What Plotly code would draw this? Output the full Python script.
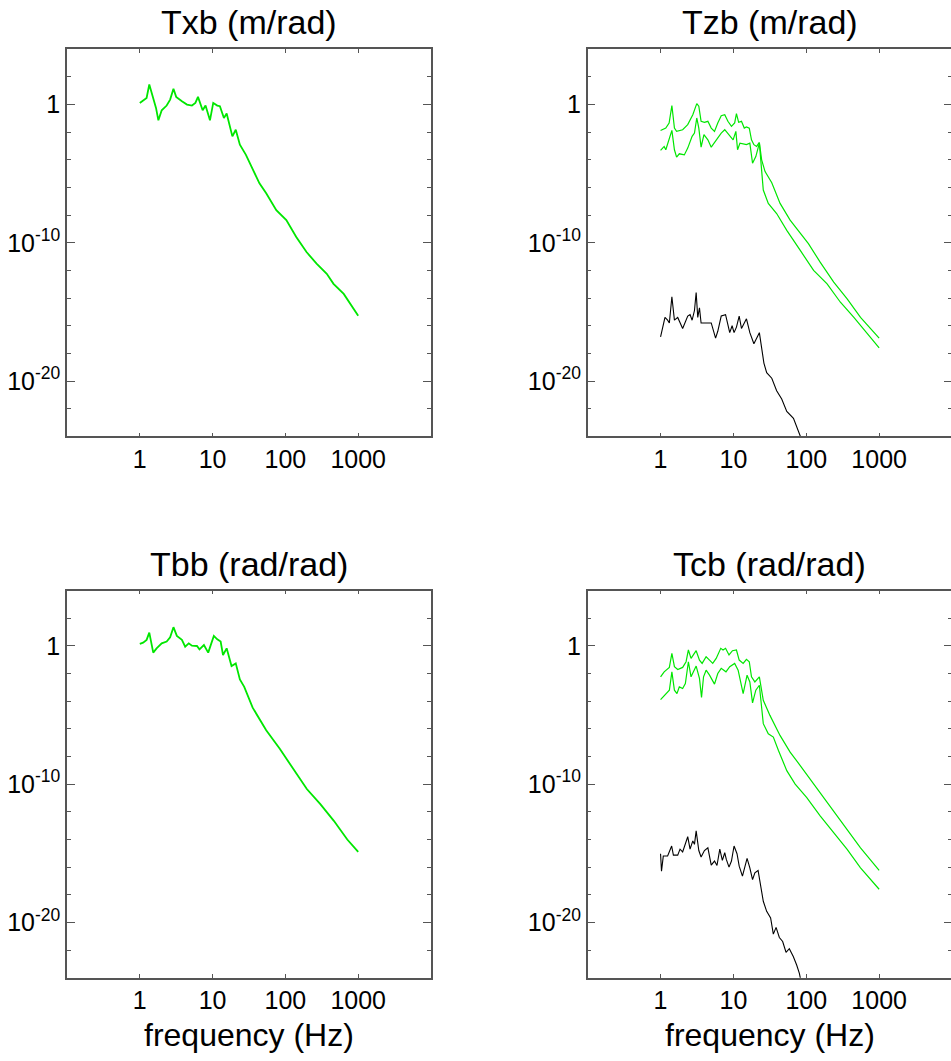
import numpy as np
import plotly.graph_objects as go

# --- data (frequency in Hz, magnitude as log10) ---
txb_f = [1, 1.11, 1.24, 1.35, 1.53, 1.67, 1.8, 2.0, 2.34, 2.61, 2.9, 3.16, 3.79, 4.45, 5.2, 5.8,
         6.3, 6.8, 7.3, 8.0, 8.5, 9.2, 10.2, 11.6, 12.6, 13.6, 14.3, 15.6, 16.8, 18.7, 20.8, 23.7,
         28.7, 35.5, 44, 54.5, 75, 103, 141, 195, 268, 370, 458, 633, 1000]
txb_m = [0.12, 0.29, 0.48, 1.45, 0.36, -0.24, -1.14, -0.41, -0.07, 0.36, 1.14, 0.56, 0.24, 0.0, -0.07, 0.12,
         0.56, 0.0, -0.41, -0.07, -0.56, -1.14, 0.12, -0.07, -0.12, -0.73, -0.97, -0.65, -1.33, -2.3, -1.82, -2.9,
         -3.64, -4.73, -5.7, -6.42, -7.64, -8.36, -9.58, -10.67, -11.5, -12.24, -12.97, -13.7, -15.27]

tbb_f = [1, 1.11, 1.24, 1.35, 1.53, 1.7, 2.0, 2.34, 2.61, 2.9, 3.23, 3.79, 4.2, 4.7, 5.2, 6.1,
         6.6, 7.6, 8.7, 10.4, 11.6, 12.9, 13.9, 15.6, 18.2, 20.8, 23.7, 27.2, 35.5, 54.5, 83.7, 128.6,
         197, 302, 463, 708, 1000]
tbb_m = [0.15, 0.24, 0.44, 0.97, -0.48, -0.17, 0.19, 0.32, 0.63, 1.36, 0.73, 0.44, -0.05, 0.19, 0.02, 0.0,
         -0.24, 0.07, -0.48, 0.73, 0.48, 0.32, -0.65, -0.17, -1.45, -1.26, -2.42, -2.96, -4.46, -6.1, -7.44, -8.9,
         -10.35, -11.44, -12.65, -14.0, -14.9]

tzb_up_f = [1, 1.18, 1.31, 1.43, 1.55, 1.66, 2.01, 2.36, 2.77, 3.14, 3.35, 3.6, 4.0, 4.46, 4.96, 5.5,
            6.1, 6.8, 7.6, 8.4, 9.4, 10.4, 11.0, 11.8, 12.9, 14.1, 15.1, 16.5, 17.7, 19.1, 20.8, 22.7,
            24.4, 27.2, 33.6, 43.7, 60, 82.7, 107, 155, 238, 364, 555, 1000]
tzb_up_m = [-1.87, -1.7, -1.33, -0.07, -1.7, -1.94, -1.82, -1.45, -0.73, 0.07, -0.12, -1.21, -1.28, -1.21, -1.7, -1.94,
            -1.33, -0.8, -0.73, -1.21, -1.58, -1.33, -0.65, -1.28, -1.21, -1.7, -1.62, -1.7, -2.55, -2.9, -3.03, -2.74,
            -4.0, -4.85, -5.65, -7.15, -8.36, -9.33, -10.06, -11.4, -12.85, -14.06, -15.4, -16.9]

tzb_lo_f = [1, 1.12, 1.18, 1.43, 1.55, 1.66, 1.81, 2.12, 2.36, 2.71, 2.92, 3.14, 3.35, 3.6, 3.94, 4.46,
            4.96, 5.8, 6.8, 7.6, 8.9, 9.9, 10.8, 11.4, 12.3, 15.1, 16.8, 18.3, 20.3, 22.7, 25.7, 30.1,
            39.2, 54, 82.7, 126, 193, 294, 450, 687, 1000]
tzb_lo_m = [-3.32, -3.03, -3.27, -1.87, -3.27, -3.8, -3.56, -3.64, -3.15, -2.3, -2.06, -0.97, -1.7, -3.08, -2.18, -2.55,
            -3.08, -2.55, -2.06, -1.82, -2.3, -2.55, -1.94, -3.27, -2.79, -2.9, -2.79, -4.24, -3.76, -2.79, -6.18, -7.15,
            -7.88, -9.1, -10.55, -12.0, -12.97, -14.3, -15.4, -16.6, -17.6]

tzb_bk_f = [1, 1.07, 1.15, 1.25, 1.32, 1.43, 1.55, 1.72, 2.01, 2.36, 2.54, 2.71, 2.92, 3.08, 3.24, 3.42,
            3.6, 4.22, 4.96, 5.69, 6.1, 6.8, 7.8, 8.9, 9.6, 10.2, 11.0, 12.0, 12.9, 15.1, 16.8, 19.1,
            22.7, 26.2, 28.6, 33.6, 39.2, 46, 54, 66.7, 76.7, 84.3, 101, 150]
tzb_bk_m = [-16.8, -16.0, -15.4, -15.6, -15.8, -13.9, -15.6, -15.4, -16.2, -15.3, -15.2, -15.6, -14.9, -13.6, -15.4, -14.7,
            -15.8, -15.8, -15.8, -16.9, -16.4, -15.3, -15.2, -16.5, -16.0, -16.5, -16.1, -15.3, -16.2, -15.5, -16.5, -17.3,
            -16.5, -18.7, -19.4, -19.8, -20.7, -21.3, -22.2, -22.7, -23.5, -24.1, -25.3, -27.0]

tcb_up_f = [1, 1.12, 1.32, 1.43, 1.55, 1.72, 2.01, 2.24, 2.41, 2.62, 3.08, 3.42, 3.72, 4.22, 4.7, 5.2,
            5.8, 6.7, 7.2, 7.8, 8.7, 9.7, 11.0, 12.0, 13.6, 15.1, 16.5, 17.7, 19.7, 22.7, 25.7, 31.7,
            43.6, 60, 82.6, 113, 174, 238, 364, 555, 1000]
tcb_up_m = [-2.23, -1.87, -1.55, -0.53, -1.5, -1.7, -1.55, -1.14, -0.29, -0.9, -0.34, -1.02, -1.26, -0.78, -1.02, -1.26,
            -0.9, -0.17, -0.29, -0.17, -0.65, -0.34, -0.29, -1.02, -1.26, -0.97, -1.14, -2.23, -2.6, -2.23, -3.93, -5.02,
            -6.47, -7.68, -8.65, -9.62, -10.96, -11.93, -13.26, -14.6, -16.24]

tcb_lo_f = [1, 1.18, 1.32, 1.43, 1.55, 1.68, 1.81, 2.01, 2.19, 2.41, 2.62, 3.08, 3.42, 3.65, 3.89, 4.22,
            4.7, 5.5, 6.1, 6.8, 7.9, 8.9, 10.4, 11.6, 12.5, 13.6, 15.4, 16.8, 18.3, 20.3, 22.7, 25.7,
            30.1, 35.3, 41.5, 54, 70.4, 101, 155, 238, 364, 555, 1000]
tcb_lo_m = [-3.88, -3.44, -3.2, -1.87, -3.2, -3.44, -2.96, -3.08, -2.72, -1.14, -2.23, -1.45, -2.35, -3.73, -2.23, -1.75,
            -2.11, -2.76, -1.99, -1.62, -1.87, -1.5, -1.26, -1.75, -2.47, -3.44, -2.11, -2.6, -4.12, -3.2, -2.84, -5.62,
            -6.35, -6.59, -7.56, -9.02, -9.99, -10.96, -12.29, -13.5, -14.72, -16.05, -17.6]

tcb_bk_f = [1, 1.03, 1.09, 1.25, 1.42, 1.5, 1.72, 1.85, 2.01, 2.19, 2.36, 2.54, 2.77, 2.92, 3.08, 3.35,
            3.6, 4.0, 4.46, 4.96, 5.5, 5.95, 6.5, 7.05, 7.6, 7.99, 8.7, 9.4, 10.2, 11.2, 12.0, 13.3,
            14.3, 15.4, 16.8, 18.3, 19.7, 21.8, 25.7, 28.6, 32.4, 35.3, 38.5, 42.7, 47.4, 52.7,
            58.5, 66.3, 73.8, 80.4, 83.9, 101, 150]
tcb_bk_m = [-15.03, -16.3, -15.2, -15.2, -14.47, -15.13, -15.13, -14.7, -14.9, -14.35, -13.8, -14.7, -14.1, -14.35, -13.38, -14.8,
            -15.27, -14.8, -14.6, -15.85, -15.56, -15.88, -14.7, -15.51, -14.96, -15.44, -16.0, -15.56, -14.47, -15.03, -15.93, -16.65,
            -16.0, -15.37, -16.05, -16.9, -16.41, -16.24, -18.47, -19.2, -19.68, -20.85, -20.36, -21.09, -21.38, -22.16,
            -21.9, -22.47, -23.08, -23.68, -24.17, -25.3, -27.0]

titles = ["Txb (m/rad)", "Tzb (m/rad)", "Tbb (rad/rad)", "Tcb (rad/rad)"]
x_ticks = [1, 10, 100, 1000]
y_ticks = [1e-20, 1e-10, 1]
y_ticktext = ["10<sup>-20</sup>", "10<sup>-10</sup>", "1"]
y_minor = [10.0 ** k for k in range(-22, 5, 2) if k not in (-20, -10, 0)]

GREEN = "#00e600"
FONT = "Liberation Sans, Arial, sans-serif"
# figure is 2px wider than the window: the right panel's frame falls off the edge like in the original
W, H = 953, 1061

# panel frames in pixels (left, top, right, bottom)
frames = [(67, 49.3, 431, 436.3), (587.7, 49.3, 952, 436.3),
          (67, 590.7, 431, 977.7), (587.7, 590.7, 952, 977.7)]

panels = [
    [(txb_f, txb_m, GREEN, 1.8)],
    [(tzb_up_f, tzb_up_m, GREEN, 1.2), (tzb_lo_f, tzb_lo_m, GREEN, 1.2), (tzb_bk_f, tzb_bk_m, "black", 1.1)],
    [(tbb_f, tbb_m, GREEN, 1.8)],
    [(tcb_up_f, tcb_up_m, GREEN, 1.2), (tcb_lo_f, tcb_lo_m, GREEN, 1.2), (tcb_bk_f, tcb_bk_m, "black", 1.1)],
]

fig = go.Figure()
annotations = []
axis_font = dict(family=FONT, size=25, color="black")

for i, (frame, curves) in enumerate(zip(frames, panels)):
    n = "" if i == 0 else str(i + 1)
    l, t, r, b = frame
    xdom = [l / W, r / W]
    ydom = [1 - b / H, 1 - t / H]
    for f, m, col, lw in curves:
        fig.add_trace(go.Scatter(x=f, y=np.power(10.0, m), mode="lines",
                                 line=dict(color=col, width=lw),
                                 xaxis="x" + n, yaxis="y" + n, showlegend=False))
    fig.layout["xaxis" + n] = dict(
        domain=xdom, anchor="y" + n, type="log", range=[-1, 4],
        tickvals=x_ticks, ticktext=[str(v) for v in x_ticks],
        ticks="inside", ticklen=4, tickcolor="#555", tickwidth=1,
        showline=True, linecolor="#555", linewidth=1.5, mirror="ticks",
        showgrid=False, zeroline=False, tickfont=axis_font)
    fig.layout["yaxis" + n] = dict(
        domain=ydom, anchor="x" + n, type="log", range=[-24, 4],
        tickvals=y_ticks, ticktext=y_ticktext,
        ticks="inside", ticklen=8, tickcolor="#555", tickwidth=1,
        minor=dict(tickvals=y_minor, ticks="inside", ticklen=4, tickcolor="#555", showgrid=False),
        showline=True, linecolor="#555", linewidth=1.5, mirror="ticks",
        showgrid=False, zeroline=False, tickfont=axis_font)
    xc = (l + r) / 2
    annotations.append(dict(text=titles[i], xref="paper", yref="paper", x=xc / W, y=ydom[1],
                            xanchor="center", yanchor="middle", yshift=27, showarrow=False,
                            font=dict(family=FONT, size=34, color="black")))
    if i >= 2:
        annotations.append(dict(text="frequency (Hz)", xref="paper", yref="paper", x=xc / W, y=ydom[0],
                                xanchor="center", yanchor="middle", yshift=-57, showarrow=False,
                                font=dict(family=FONT, size=32, color="black")))

fig.update_layout(width=W, height=H, margin=dict(l=0, r=0, t=0, b=0),
                  paper_bgcolor="white", plot_bgcolor="white",
                  annotations=annotations, showlegend=False)

fig.write_html("out.html", config={"displayModeBar": False},
               post_script="document.body.style.margin='0';document.body.style.overflow='hidden';")
